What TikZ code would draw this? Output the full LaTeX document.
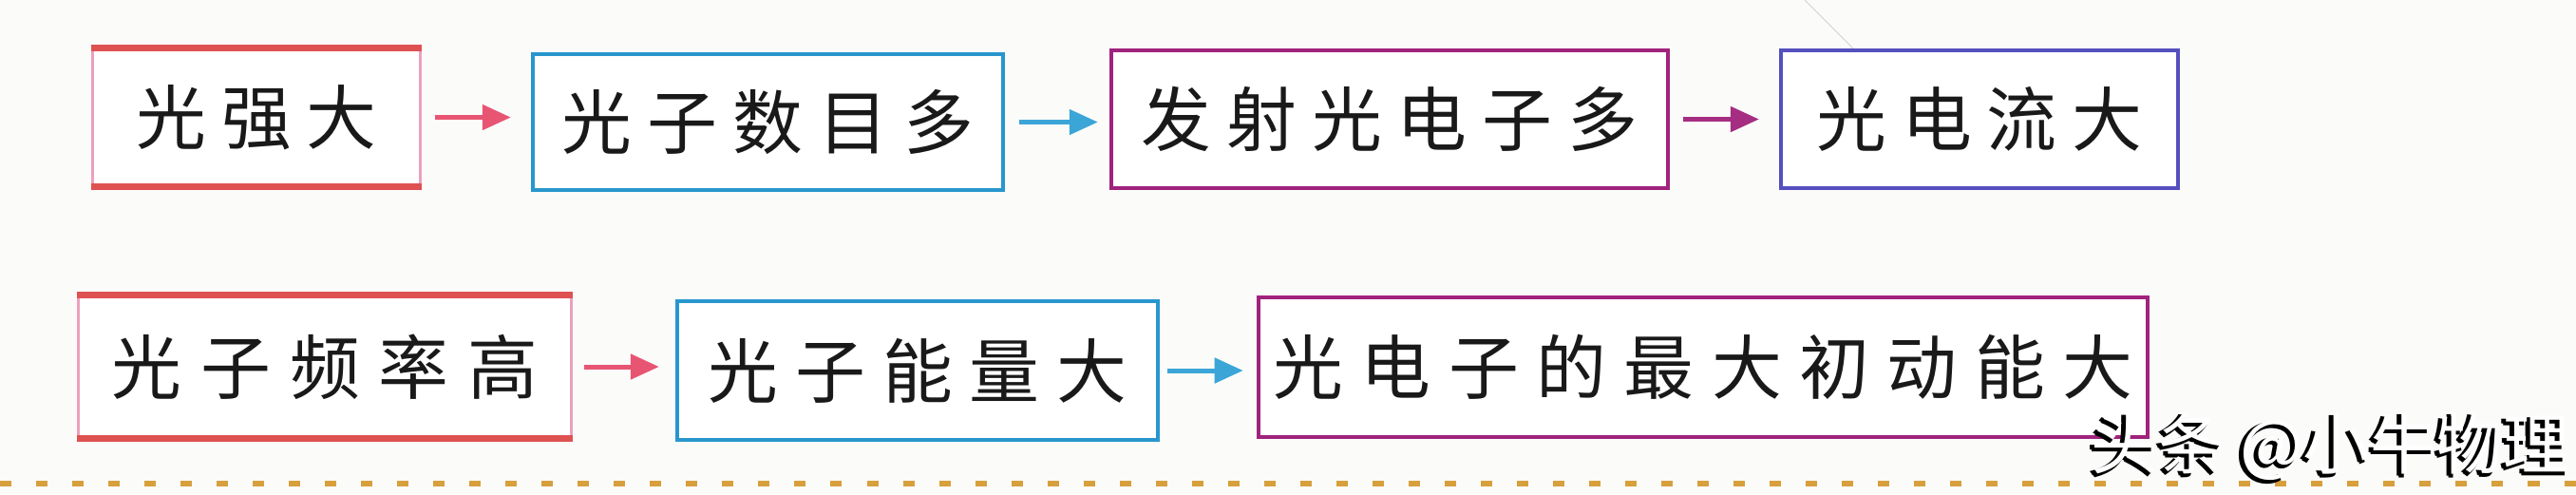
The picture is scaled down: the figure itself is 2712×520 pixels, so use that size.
\documentclass[tikz,border=0pt]{standalone}
\usepackage{fontspec}
\newfontfamily\cjk{Noto Sans CJK SC}
\usetikzlibrary{arrows.meta}
\definecolor{bgc}{RGB}{251,251,250}
\definecolor{pinkside}{RGB}{236,160,190}
\definecolor{redtb}{RGB}{222,82,82}
\definecolor{cyanb}{RGB}{40,150,205}
\definecolor{magb}{RGB}{160,35,125}
\definecolor{blueb}{RGB}{85,80,190}
\definecolor{arrpink}{RGB}{232,85,115}
\definecolor{arrcyan}{RGB}{60,165,215}
\definecolor{arrmag}{RGB}{165,45,130}
\definecolor{dotc}{RGB}{215,160,60}
\definecolor{txtc}{RGB}{25,25,25}
\newlength\gapw
\def\spread#1{\spreadA#1\relax}
\def\spreadA#1#2{#1\ifx#2\relax\else\hspace{\gapw}\expandafter\spreadA\expandafter#2\fi}
\newcommand\sprd[2]{\setlength\gapw{#1}\spread{#2}}
\tikzset{
  box/.style={draw, line width=0.04cm, inner sep=0pt, fill=white, text=txtc,
     font=\cjk\fontsize{21}{21}\selectfont},
  pinkbox/.style={box, draw=pinkside, line width=0.03cm},
  edgered/.style={redtb, line width=0.065cm},
  arr/.style={line width=0.05cm, -{Triangle[length=0.3cm,width=0.26cm]}},
  wm/.style={font=\cjk\fontsize{20}{20}\selectfont, inner sep=0pt}
}
\begin{document}
\begin{tikzpicture}[x=0.01cm,y=-0.01cm]
\useasboundingbox (0,0) rectangle (2712,520);
\fill[bgc] (0,0) rectangle (2712,520);
% faint scratch
\draw[black!18, line width=0.01cm] (1900,0) -- (1995,95);
% row 1
\node[pinkbox, minimum width=3.44cm, minimum height=1.43cm] (b1) at (270,123.5) {\sprd{0.16cm}{光强大}};
\node[box, draw=cyanb, minimum width=4.95cm, minimum height=1.43cm] (b2) at (808.5,128.5) {\sprd{0.16cm}{光子数目多}};
\node[box, draw=magb, minimum width=5.86cm, minimum height=1.45cm] (b3) at (1463,125.5) {\sprd{0.16cm}{发射光电子多}};
\node[box, draw=blueb, minimum width=4.18cm, minimum height=1.45cm] (b4) at (2084,125.5) {\sprd{0.16cm}{光电流大}};
\draw[edgered] (b1.north west) -- (b1.north east);
\draw[edgered] (b1.south west) -- (b1.south east);
\draw[arr, arrpink, shorten <=0.14cm, shorten >=0.21cm] (b1.east) -- (b1.east -| b2.west);
\draw[arr, arrcyan, shorten <=0.15cm, shorten >=0.12cm] (b2.east) -- (b2.east -| b3.west);
\draw[arr, arrmag, shorten <=0.14cm, shorten >=0.21cm] (b3.east) -- (b3.east -| b4.west);
% row 2
\node[pinkbox, minimum width=5.18cm, minimum height=1.48cm] (c1) at (342,386) {\sprd{0.2cm}{光子频率高}};
\node[box, draw=cyanb, minimum width=5.06cm, minimum height=1.46cm] (c2) at (966,390) {\sprd{0.18cm}{光子能量大}};
\node[box, draw=magb, minimum width=9.36cm, minimum height=1.47cm] (c3) at (1793,386.5) {\sprd{0.185cm}{光电子的最大初动能大}};
\draw[edgered] (c1.north west) -- (c1.north east);
\draw[edgered] (c1.south west) -- (c1.south east);
\draw[arr, arrpink, shorten <=0.12cm, shorten >=0.17cm] (c1.east) -- (c1.east -| c2.west);
\draw[arr, arrcyan, shorten <=0.08cm, shorten >=0.14cm] (c2.east) -- (c2.east -| c3.west);
% dotted rule
\draw[dotc, line width=0.06cm, dash pattern=on 0.12cm off 0.26cm] (0,509) -- (2712,509);
% watermark
\node[wm, text=black] (wms1) at (2449,472) {头条 @小牛物理};
\node[wm, text=black] (wms2) at (2451,474) {头条 @小牛物理};
\node[wm, text=white] (wmt) at (2454,470) {头条 @小牛物理};
\end{tikzpicture}
\end{document}
